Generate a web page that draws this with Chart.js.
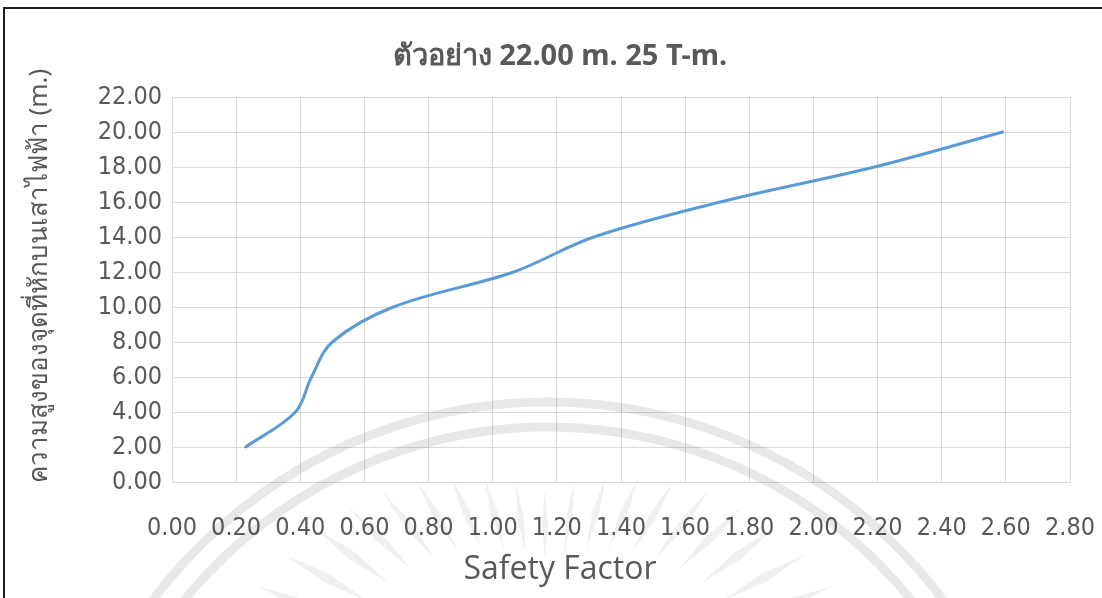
<!DOCTYPE html>
<html>
<head>
<meta charset="utf-8">
<script src="https://cdn.jsdelivr.net/npm/chart.js@4/dist/chart.umd.min.js"></script>
<style>
  html, body { margin: 0; padding: 0; background: #ffffff; overflow: hidden; }
  #wrap { position: relative; width: 1102px; height: 598px; }
</style>
</head>
<body>
<div id="wrap"><canvas id="chart" width="1102" height="598"></canvas></div>
<script>
// Break height on the pole (m) against the computed safety factor
const heights = [2, 4, 6, 8, 10, 12, 14, 16, 18, 20];
const safetyFactor = [0.23, 0.385, 0.435, 0.50, 0.69, 1.065, 1.315, 1.71, 2.19, 2.59];

const chartTitle = 'ตัวอย่าง 22.00 m. 25 T-m.';
const xTitle = 'Safety Factor';
const yTitle = 'ความสูงของจุดที่หักบนเสาไฟฟ้า (m.)';

const TEXT = '#595959';
const GRID = '#d9d9d9';
const TICK_FONT = "'Liberation Sans Narrow', 'DejaVu Sans Condensed', 'Noto Sans', sans-serif";
const THAI_FONT = "'Noto Sans', 'DejaVu Sans', sans-serif";

// Frame, chart title and both axis titles
const decorations = {
  id: 'decorations',
  beforeDraw(chart) {
    const ctx = chart.ctx;
    ctx.save();
    ctx.fillStyle = '#ffffff';
    ctx.fillRect(0, 0, chart.width, chart.height);
    ctx.strokeStyle = '#1f1f1f';
    ctx.lineWidth = 2;
    ctx.beginPath();
    ctx.moveTo(4, chart.height + 2);
    ctx.lineTo(4, 8);
    ctx.lineTo(chart.width + 2, 8);
    ctx.stroke();
    ctx.restore();
  },
  afterDraw(chart) {
    const ctx = chart.ctx;
    ctx.save();
    ctx.fillStyle = TEXT;
    ctx.textAlign = 'center';
    ctx.textBaseline = 'middle';
    ctx.font = "bold 29px " + THAI_FONT;
    ctx.fillText(chartTitle, 560, 57);
    ctx.font = "32px 'Open Sans', 'Noto Sans', sans-serif";
    ctx.fillText(xTitle, 560, 570);
    ctx.translate(40, 276);
    ctx.rotate(-Math.PI / 2);
    ctx.font = "26px " + THAI_FONT;
    ctx.fillText(yTitle, 0, 0);
    ctx.restore();
  }
};

// Faint seal printed across the lower half of the sheet
const seal = {
  id: 'seal',
  afterDraw(chart) {
    const ctx = chart.ctx;
    const cx = 548, cy = 895;
    ctx.save();
    ctx.strokeStyle = 'rgba(0,0,0,0.09)';
    ctx.lineCap = 'round';
    ctx.lineWidth = 9;
    [493, 468].forEach(r => {
      ctx.beginPath();
      ctx.arc(cx, cy, r, Math.PI * 1.02, Math.PI * 1.98);
      ctx.stroke();
    });
    // rays of the emblem
    const ox = 545, oy = 700;
    ctx.fillStyle = 'rgba(0,0,0,0.06)';
    for (let i = 0; i <= 18; i++) {
      const a = Math.PI * (1.12 + i * 0.76 / 18);
      const side = Math.abs(a - Math.PI * 1.5) / (Math.PI * 0.38);
      const r0 = 140 + side * 70, r1 = 210 + side * 100;
      const w = 3 + side * 2;
      const nx = -Math.sin(a), ny = Math.cos(a);
      const rm = (r0 + r1) / 2;
      ctx.beginPath();
      ctx.moveTo(ox + Math.cos(a) * r0, oy + Math.sin(a) * r0);
      ctx.lineTo(ox + Math.cos(a) * rm + nx * w, oy + Math.sin(a) * rm + ny * w);
      ctx.lineTo(ox + Math.cos(a) * r1, oy + Math.sin(a) * r1);
      ctx.lineTo(ox + Math.cos(a) * rm - nx * w, oy + Math.sin(a) * rm - ny * w);
      ctx.closePath();
      ctx.fill();
    }
    ctx.restore();
  }
};

new Chart(document.getElementById('chart'), {
  type: 'scatter',
  data: {
    datasets: [{
      label: yTitle,
      data: safetyFactor.map((x, i) => ({ x: x, y: heights[i] })),
      showLine: true,
      borderColor: '#5b9bd5',
      backgroundColor: '#5b9bd5',
      borderWidth: 3,
      borderCapStyle: 'round',
      tension: 0.35,
      pointRadius: 0,
      pointHoverRadius: 0
    }]
  },
  options: {
    responsive: false,
    animation: false,
    devicePixelRatio: 1,
    layout: { padding: { top: 97, right: 32, bottom: 0, left: 0 } },
    plugins: {
      legend: { display: false },
      tooltip: { enabled: false },
      title: { display: false }
    },
    scales: {
      x: {
        type: 'linear',
        min: 0,
        max: 2.8,
        afterFit(scale) { scale.height = 116; },
        border: { color: GRID, width: 1 },
        grid: { color: GRID, lineWidth: 1, drawTicks: true, tickLength: 31, tickColor: 'rgba(0,0,0,0)' },
        ticks: {
          stepSize: 0.2,
          padding: 0,
          color: TEXT,
          font: { family: TICK_FONT, size: 25 },
          maxRotation: 0,
          autoSkip: false,
          callback: v => Number(v).toFixed(2)
        }
      },
      y: {
        type: 'linear',
        min: 0,
        max: 22,
        afterFit(scale) { scale.width = 172; },
        border: { color: GRID, width: 1 },
        grid: { color: GRID, lineWidth: 1, drawTicks: false },
        ticks: {
          stepSize: 2,
          padding: 10,
          color: TEXT,
          font: { family: TICK_FONT, size: 25 },
          callback: v => Number(v).toFixed(2)
        }
      }
    }
  },
  plugins: [decorations, seal]
});
</script>
</body>
</html>
